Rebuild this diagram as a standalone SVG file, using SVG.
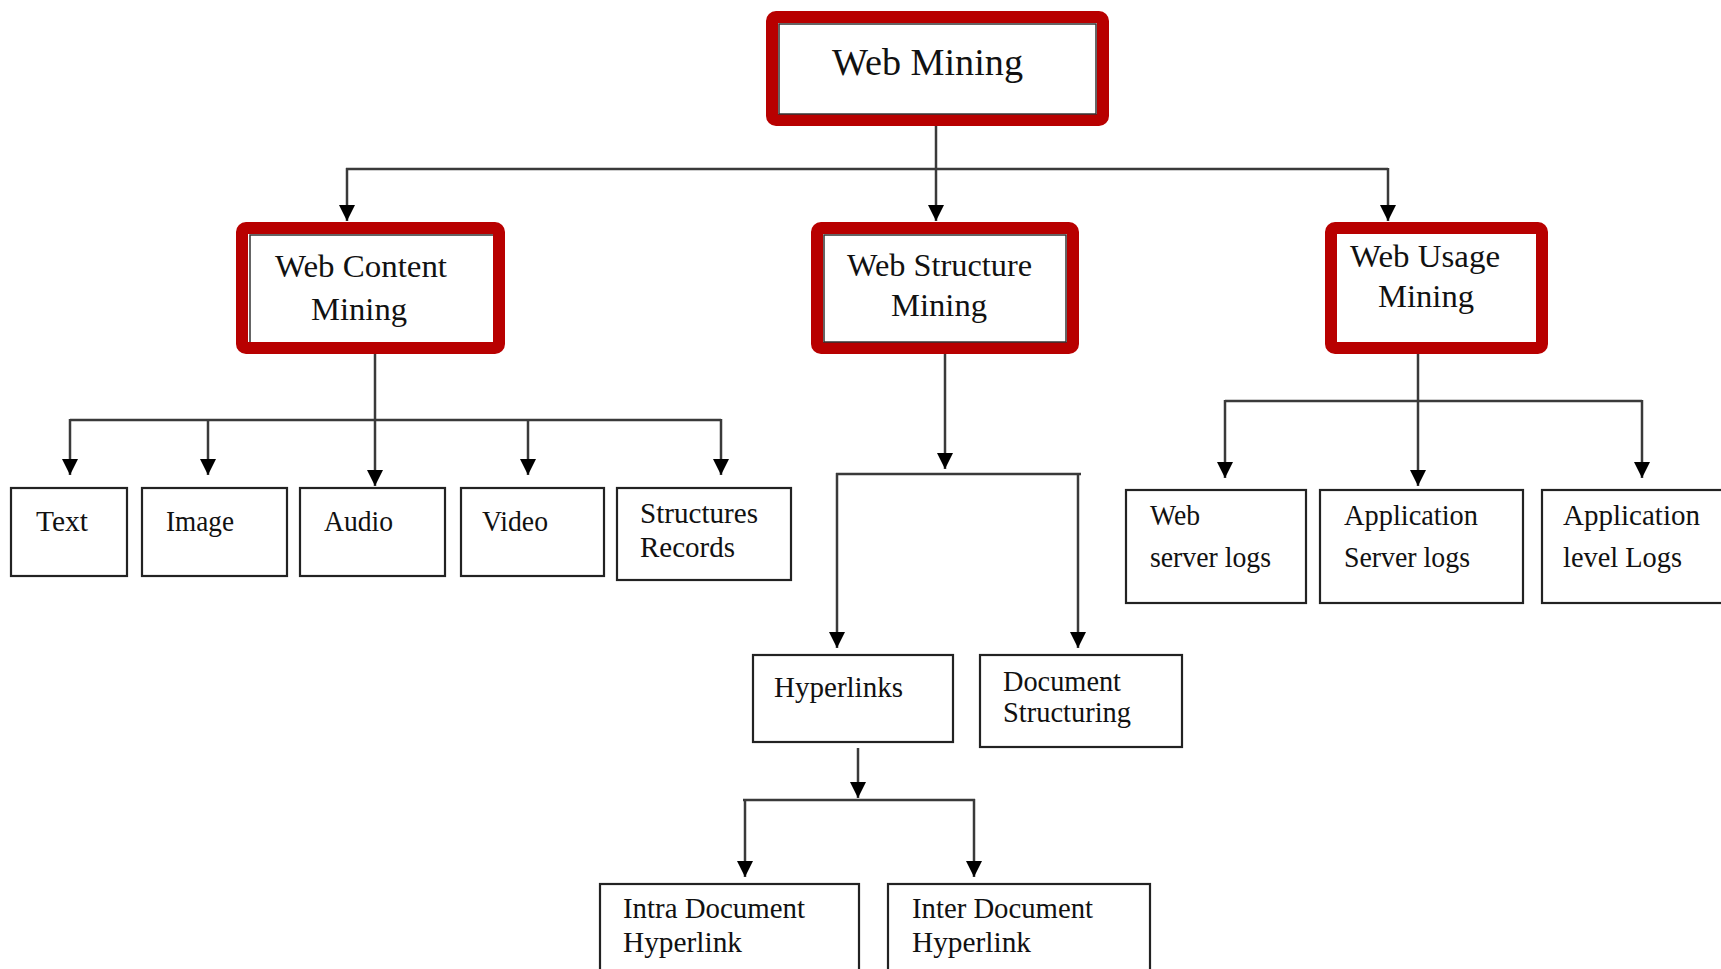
<svg xmlns="http://www.w3.org/2000/svg" width="1721" height="969" viewBox="0 0 1721 969">
<style>
  .red { fill: #ffffff; stroke: #b80000; stroke-width: 12; }
  .inner { fill: none; stroke: #333333; stroke-width: 1.5; }
  .box { fill: #ffffff; stroke: #222222; stroke-width: 2.2; }
  .conn { fill: none; stroke: #3a3a3a; stroke-width: 2.5; }
  text { font-family: "Liberation Serif", "Times New Roman", serif; fill: #111111; }
  .t1 { font-size: 38px; }
  .t2 { font-size: 31px; }
  .t3 { font-size: 29px; }
</style>
<defs>
  <marker id="arr" markerUnits="userSpaceOnUse" markerWidth="18" markerHeight="16" refX="16" refY="8" orient="auto">
    <path d="M0,0 L16,8 L0,16 Z" fill="#000000"/>
  </marker>
</defs>
<rect width="1721" height="969" fill="#ffffff"/>

<g id="connectors">
  <path class="conn" d="M936 115 V221" marker-end="url(#arr)"/>
  <path class="conn" d="M346 169 H1388"/>
  <path class="conn" d="M347 168 V221" marker-end="url(#arr)"/>
  <path class="conn" d="M1388 168 V221" marker-end="url(#arr)"/>

  <path class="conn" d="M375 354 V486" marker-end="url(#arr)"/>
  <path class="conn" d="M70 420 H721"/>
  <path class="conn" d="M70 419 V475" marker-end="url(#arr)"/>
  <path class="conn" d="M208 419 V475" marker-end="url(#arr)"/>
  <path class="conn" d="M528 419 V475" marker-end="url(#arr)"/>
  <path class="conn" d="M721 419 V475" marker-end="url(#arr)"/>

  <path class="conn" d="M945 354 V469" marker-end="url(#arr)"/>
  <path class="conn" d="M836 474 H1081"/>
  <path class="conn" d="M837 473 V648" marker-end="url(#arr)"/>
  <path class="conn" d="M1078 473 V648" marker-end="url(#arr)"/>

  <path class="conn" d="M858 748 V798" marker-end="url(#arr)"/>
  <path class="conn" d="M743 800 H975"/>
  <path class="conn" d="M745 799 V877" marker-end="url(#arr)"/>
  <path class="conn" d="M974 799 V877" marker-end="url(#arr)"/>

  <path class="conn" d="M1418 354 V486" marker-end="url(#arr)"/>
  <path class="conn" d="M1225 401 H1642"/>
  <path class="conn" d="M1225 400 V478" marker-end="url(#arr)"/>
  <path class="conn" d="M1642 400 V478" marker-end="url(#arr)"/>
</g>

<g id="web-mining">
  <rect class="red" x="772" y="17" width="331" height="103" rx="4"/>
  <rect class="inner" x="779" y="24" width="317" height="90"/>
  <text class="t1" x="832" y="75" textLength="191" lengthAdjust="spacingAndGlyphs">Web Mining</text>
</g>

<g id="web-content-mining">
  <rect class="red" x="242" y="228" width="257" height="120" rx="4"/>
  <path class="inner" d="M250 342 V235 H493"/>
  <text class="t2" x="275" y="277" textLength="172" lengthAdjust="spacingAndGlyphs">Web Content</text>
  <text class="t2" x="311" y="320" textLength="96" lengthAdjust="spacingAndGlyphs">Mining</text>
</g>

<g id="web-structure-mining">
  <rect class="red" x="817" y="228" width="256" height="120" rx="4"/>
  <rect class="inner" x="824" y="235" width="242" height="107"/>
  <text class="t2" x="847" y="276" textLength="185" lengthAdjust="spacingAndGlyphs">Web Structure</text>
  <text class="t2" x="891" y="316" textLength="96" lengthAdjust="spacingAndGlyphs">Mining</text>
</g>

<g id="web-usage-mining">
  <rect class="red" x="1331" y="228" width="211" height="120" rx="4"/>
  <text class="t2" x="1350" y="267" textLength="150" lengthAdjust="spacingAndGlyphs">Web Usage</text>
  <text class="t2" x="1378" y="307" textLength="96" lengthAdjust="spacingAndGlyphs">Mining</text>
</g>

<g id="text">
  <rect class="box" x="11" y="488" width="116" height="88"/>
  <text class="t3" x="36" y="531" textLength="52" lengthAdjust="spacingAndGlyphs">Text</text>
</g>
<g id="image">
  <rect class="box" x="142" y="488" width="145" height="88"/>
  <text class="t3" x="166" y="531" textLength="68" lengthAdjust="spacingAndGlyphs">Image</text>
</g>
<g id="audio">
  <rect class="box" x="300" y="488" width="145" height="88"/>
  <text class="t3" x="324" y="531" textLength="69" lengthAdjust="spacingAndGlyphs">Audio</text>
</g>
<g id="video">
  <rect class="box" x="461" y="488" width="143" height="88"/>
  <text class="t3" x="482" y="531" textLength="66" lengthAdjust="spacingAndGlyphs">Video</text>
</g>
<g id="structures-records">
  <rect class="box" x="617" y="488" width="174" height="92"/>
  <text class="t3" x="640" y="523" textLength="118" lengthAdjust="spacingAndGlyphs">Structures</text>
  <text class="t3" x="640" y="557" textLength="95" lengthAdjust="spacingAndGlyphs">Records</text>
</g>

<g id="hyperlinks">
  <rect class="box" x="753" y="655" width="200" height="87"/>
  <text class="t3" x="774" y="697" textLength="129" lengthAdjust="spacingAndGlyphs">Hyperlinks</text>
</g>
<g id="document-structuring">
  <rect class="box" x="980" y="655" width="202" height="92"/>
  <text class="t3" x="1003" y="691" textLength="118" lengthAdjust="spacingAndGlyphs">Document</text>
  <text class="t3" x="1003" y="722" textLength="128" lengthAdjust="spacingAndGlyphs">Structuring</text>
</g>

<g id="intra-document-hyperlink">
  <rect class="box" x="600" y="884" width="259" height="100"/>
  <text class="t3" x="623" y="918" textLength="182" lengthAdjust="spacingAndGlyphs">Intra Document</text>
  <text class="t3" x="623" y="952" textLength="119" lengthAdjust="spacingAndGlyphs">Hyperlink</text>
</g>
<g id="inter-document-hyperlink">
  <rect class="box" x="888" y="884" width="262" height="100"/>
  <text class="t3" x="912" y="918" textLength="181" lengthAdjust="spacingAndGlyphs">Inter Document</text>
  <text class="t3" x="912" y="952" textLength="119" lengthAdjust="spacingAndGlyphs">Hyperlink</text>
</g>

<g id="web-server-logs">
  <rect class="box" x="1126" y="490" width="180" height="113"/>
  <text class="t3" x="1150" y="525" textLength="50" lengthAdjust="spacingAndGlyphs">Web</text>
  <text class="t3" x="1150" y="567" textLength="121" lengthAdjust="spacingAndGlyphs">server logs</text>
</g>
<g id="application-server-logs">
  <rect class="box" x="1320" y="490" width="203" height="113"/>
  <text class="t3" x="1344" y="525" textLength="134" lengthAdjust="spacingAndGlyphs">Application</text>
  <text class="t3" x="1344" y="567" textLength="126" lengthAdjust="spacingAndGlyphs">Server logs</text>
</g>
<g id="application-level-logs">
  <rect class="box" x="1542" y="490" width="190" height="113"/>
  <text class="t3" x="1563" y="525" textLength="137" lengthAdjust="spacingAndGlyphs">Application</text>
  <text class="t3" x="1563" y="567" textLength="119" lengthAdjust="spacingAndGlyphs">level Logs</text>
</g>
</svg>
